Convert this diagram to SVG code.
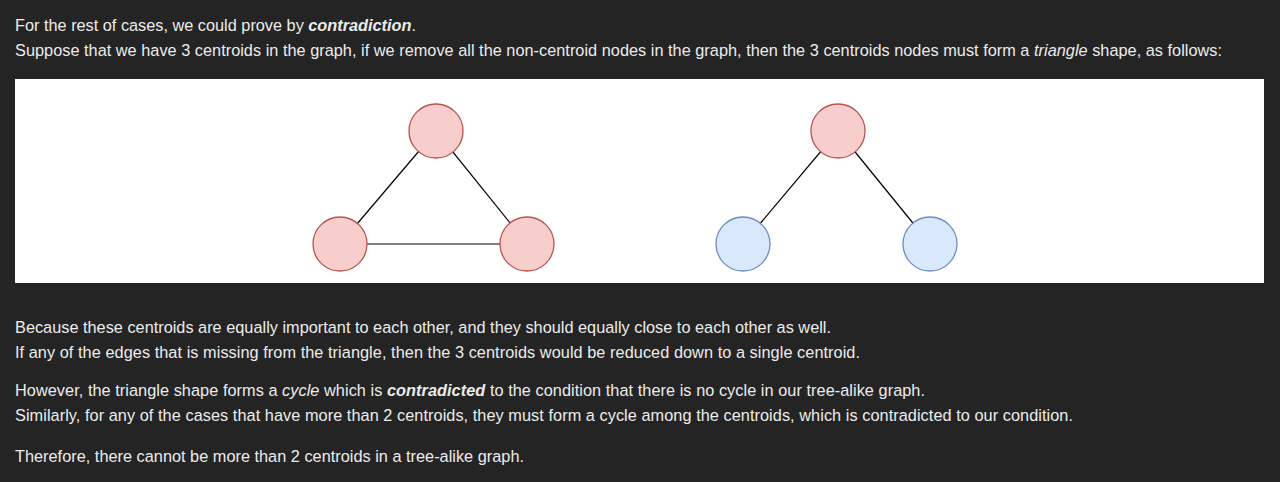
<svg xmlns="http://www.w3.org/2000/svg" width="1280" height="482" viewBox="0 0 1280 482">
<style>
.t{font-family:"Liberation Sans",Arial,sans-serif;font-size:16.3px;fill:#ececec}
.b{font-weight:bold;font-style:italic}
.i{font-style:italic}
.red{fill:#f8cecc;stroke:#b85450;stroke-width:1.3}
.blue{fill:#dae8fc;stroke:#6c8ebf;stroke-width:1.3}
.e{stroke:#000;stroke-width:1.2;fill:none}
</style>
<rect width="1280" height="482" fill="#242424"/>
<g id="text-top">
<text class="t" x="15" y="31" textLength="401" lengthAdjust="spacing">For the rest of cases, we could prove by <tspan class="b">contradiction</tspan>.</text>
<text class="t" x="15" y="56" textLength="1207" lengthAdjust="spacing">Suppose that we have 3 centroids in the graph, if we remove all the non-centroid nodes in the graph, then the 3 centroids nodes must form a <tspan class="i">triangle</tspan> shape, as follows:</text>
</g>
<rect id="panel" x="15" y="79" width="1249" height="204" fill="#ffffff"/>
<g id="connectors">
<line class="e" x1="436" y1="131" x2="340" y2="244"/>
<line class="e" x1="436" y1="131" x2="527" y2="244"/>
<line class="e" x1="340" y1="244" x2="527" y2="244"/>
<line class="e" x1="838" y1="131" x2="743" y2="244"/>
<line class="e" x1="838" y1="131" x2="930" y2="244"/>
</g>
<g id="n1"><circle class="red" cx="436" cy="131" r="27"/></g>
<g id="n2"><circle class="red" cx="340" cy="244" r="27"/></g>
<g id="n3"><circle class="red" cx="527" cy="244" r="27"/></g>
<g id="n4"><circle class="red" cx="838" cy="131" r="27"/></g>
<g id="n5"><circle class="blue" cx="743" cy="244" r="27"/></g>
<g id="n6"><circle class="blue" cx="930" cy="244" r="27"/></g>
<g id="text-bottom">
<text class="t" x="15" y="333" textLength="816" lengthAdjust="spacing">Because these centroids are equally important to each other, and they should equally close to each other as well.</text>
<text class="t" x="15" y="358" textLength="845" lengthAdjust="spacing">If any of the edges that is missing from the triangle, then the 3 centroids would be reduced down to a single centroid.</text>
<text class="t" x="15" y="396" textLength="910" lengthAdjust="spacing">However, the triangle shape forms a <tspan class="i">cycle</tspan> which is <tspan class="b">contradicted</tspan> to the condition that there is no cycle in our tree-alike graph.</text>
<text class="t" x="15" y="421" textLength="1058" lengthAdjust="spacing">Similarly, for any of the cases that have more than 2 centroids, they must form a cycle among the centroids, which is contradicted to our condition.</text>
<text class="t" x="15" y="462" textLength="509" lengthAdjust="spacing">Therefore, there cannot be more than 2 centroids in a tree-alike graph.</text>
</g>
</svg>
